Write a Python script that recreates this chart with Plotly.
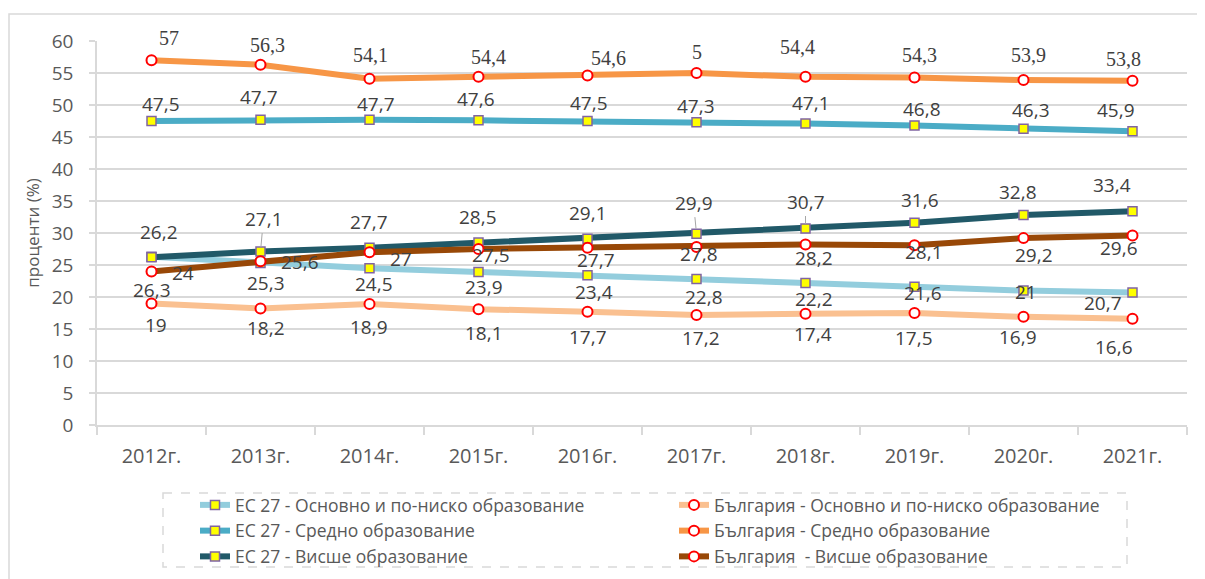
import plotly.graph_objects as go

years = ["2012г.", "2013г.", "2014г.", "2015г.", "2016г.", "2017г.", "2018г.", "2019г.", "2020г.", "2021г."]

eu_low = [26.3, 25.3, 24.5, 23.9, 23.4, 22.8, 22.2, 21.6, 21, 20.7]
eu_sec = [47.5, 47.7, 47.7, 47.6, 47.5, 47.3, 47.1, 46.8, 46.3, 45.9]
eu_high = [26.2, 27.1, 27.7, 28.5, 29.1, 29.9, 30.7, 31.6, 32.8, 33.4]
bg_low = [19, 18.2, 18.9, 18.1, 17.7, 17.2, 17.4, 17.5, 16.9, 16.6]
bg_sec = [57, 56.3, 54.1, 54.4, 54.6, 55, 54.4, 54.3, 53.9, 53.8]
bg_high = [24, 25.6, 27, 27.5, 27.7, 27.8, 28.2, 28.1, 29.2, 29.6]

# data label texts as printed in the original (note the "5" shown for 2017)
bg_sec_labels = ["57", "56,3", "54,1", "54,4", "54,6", "5", "54,4", "54,3", "53,9", "53,8"]

names = {
    "eu_low": "ЕС 27 - Основно и по-ниско образование",
    "bg_low": "България - Основно и по-ниско образование",
    "eu_sec": "ЕС 27 - Средно образование",
    "bg_sec": "България - Средно образование",
    "eu_high": "ЕС 27 - Висше образование",
    "bg_high": "България  - Висше образование",
}

# label offsets in px (dx right, dy down) relative to each point
off_eu_low = [(0, 33), (5, 20), (4, 16), (5, 15), (6, 17), (7, 18), (8, 16), (8, 6), (2, 1), (-30, 10)]
off_eu_sec = [(9, -17), (-2, -23), (6, -16), (-3, -21), (1, -18), (-1, -16), (5, -21), (7, -16), (7, -19), (-17, -21)]
off_eu_high = [(7, -25), (3, -33), (-1, -26), (-1, -26), (0, -26), (-3, -31), (0, -27), (5, -23), (-6, -23), (-21, -26)]
off_bg_low = [(4, 22), (5, 19), (-1, 23), (5, 24), (0, 25), (4, 23), (7, 20), (-1, 25), (-6, 20), (-19, 28)]
off_bg_sec = [(17, -22), (7, -20), (1, -24), (10, -20), (21, -18), (0, -21), (-8, -30), (5, -22), (5, -25), (-9, -22)]
off_bg_high = [(31, 2), (39, 1), (31, 7), (12, 6), (8, 12), (2, 7), (8, 13), (9, 7), (10, 17), (-14, 12)]
leader_eu_high = [1, 5, 6]

SANS = "Open Sans"
SERIF = "Liberation Serif"
LBL = "#404040"
TXT = "#595959"
GRID = "#D9D9D9"

eu_marker = dict(symbol="square", size=9, color="#FFFF00", line=dict(color="#8064A2", width=1.5))
bg_marker = dict(symbol="circle", size=10, color="#FFFFFF", line=dict(color="#FF0000", width=2))

series = [
    ("eu_low", eu_low, "#93CDDD", eu_marker),
    ("bg_low", bg_low, "#FAC090", bg_marker),
    ("eu_sec", eu_sec, "#4BACC6", eu_marker),
    ("bg_sec", bg_sec, "#F79646", bg_marker),
    ("eu_high", eu_high, "#215968", eu_marker),
    ("bg_high", bg_high, "#984807", bg_marker),
]

fig = go.Figure()
for key, vals, col, mk in series:
    fig.add_trace(go.Scatter(
        x=years, y=vals, name=names[key], mode="lines+markers",
        line=dict(color=col, width=6), marker=mk,
    ))


def fmt(v):
    return ("%g" % v).replace(".", ",")


annotations = []


def add_labels(vals, offs, texts=None, font_family=SANS, size=19, leaders=()):
    for i, (v, (dx, dy)) in enumerate(zip(vals, offs)):
        t = texts[i] if texts else fmt(v)
        if i in leaders:
            annotations.append(dict(
                x=years[i], y=v, xref="x", yref="y", text=t, showarrow=True,
                ax=dx, ay=dy, arrowhead=0, arrowwidth=1, arrowcolor="#A6A6A6",
                standoff=5, font=dict(family=font_family, size=size, color=LBL),
            ))
        else:
            annotations.append(dict(
                x=years[i], y=v, xref="x", yref="y", text=t, showarrow=False,
                xshift=dx, yshift=-dy, font=dict(family=font_family, size=size, color=LBL),
            ))


add_labels(eu_low, off_eu_low)
add_labels(eu_sec, off_eu_sec)
add_labels(eu_high, off_eu_high, leaders=leader_eu_high)
add_labels(bg_low, off_bg_low)
add_labels(bg_sec, off_bg_sec, texts=bg_sec_labels, font_family=SERIF, size=20)
add_labels(bg_high, off_bg_high)

# the page body has an 8px margin; target page coordinates are compensated
PAGE = 8
W, H = 1205 - PAGE, 579 - PAGE
L, R, T, B = 97 - PAGE, 18, 41 - PAGE, 154
pw, ph = W - L - R, H - T - B


def px(xp):
    return (xp - PAGE - L) / pw


def py(yp):
    return (H - B - (yp - PAGE)) / ph


shapes = [
    # chart border (top + left visible)
    dict(type="rect", xref="paper", yref="paper", x0=px(9), x1=px(1230), y0=py(14), y1=py(620),
         line=dict(color=GRID, width=1.5), layer="below"),
    # dashed legend frame
    dict(type="rect", xref="paper", yref="paper", x0=px(163), x1=px(1127), y0=py(493), y1=py(567),
         line=dict(color=GRID, width=1.5, dash="dash")),
]

fig.update_layout(
    width=W, height=H,
    margin=dict(l=L, r=R, t=T, b=B, autoexpand=False),
    paper_bgcolor="white", plot_bgcolor="white",
    font=dict(family=SANS, color=TXT),
    annotations=annotations,
    shapes=shapes,
    showlegend=True,
    legend=dict(
        orientation="h", x=px(195), xanchor="left", y=py(487), yanchor="top",
        entrywidth=434, entrywidthmode="pixels",
        font=dict(family=SANS, size=17.5, color=TXT),
        bgcolor="rgba(0,0,0,0)", traceorder="normal", itemwidth=30,
    ),
    xaxis=dict(
        type="category", range=[-0.5, 9.5], showgrid=False,
        showline=True, linecolor=GRID, linewidth=1.5,
        ticks="outside", ticklen=8, tickcolor=GRID, tickwidth=1.5, tickson="boundaries",
        tickfont=dict(family=SANS, size=20, color=TXT), ticklabelstandoff=12,
    ),
    yaxis=dict(
        range=[0, 60], dtick=5, tick0=0, showgrid=True, gridcolor=GRID, gridwidth=1.5,
        showline=True, linecolor=GRID, linewidth=1.5, zeroline=False,
        ticks="outside", ticklen=6, tickcolor=GRID, tickwidth=1.5,
        tickfont=dict(family=SANS, size=19, color=TXT), ticklabelstandoff=12,
        title=dict(text="проценти (%)", font=dict(family=SANS, size=17, color=TXT), standoff=8),
    ),
)

fig.write_html("out.html")
